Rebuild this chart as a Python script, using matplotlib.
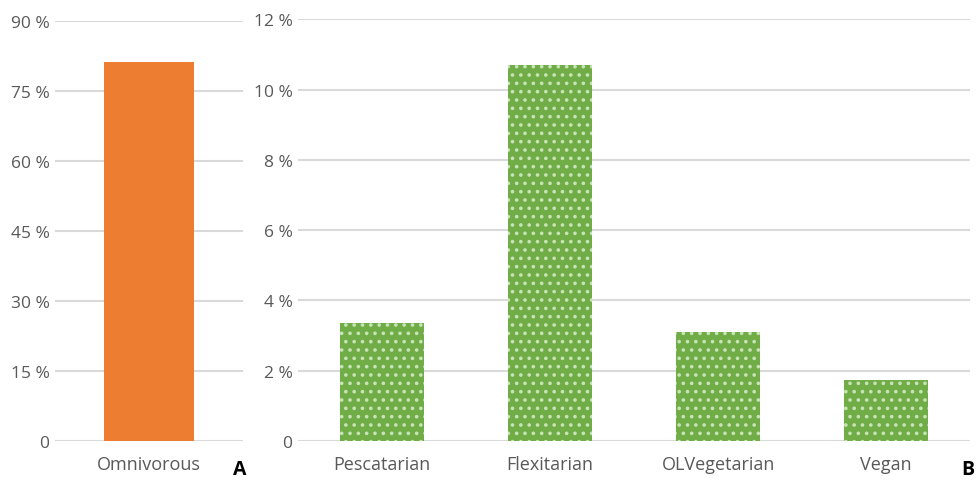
import matplotlib.pyplot as plt
import matplotlib as mpl

# diet groups and their share of respondents (%)
main_group = ['Omnivorous']
main_share = [81.2]

other_groups = ['Pescatarian', 'Flexitarian', 'OLVegetarian', 'Vegan']
other_share = [3.36, 10.69, 3.10, 1.73]

left_ticks = [0, 15, 30, 45, 60, 75, 90]
right_ticks = [0, 2, 4, 6, 8, 10, 12]

text_grey = '#595959'
grid_grey = '#D9D9D9'

mpl.rcParams['font.family'] = ['Open Sans', 'DejaVu Sans']
mpl.rcParams['hatch.linewidth'] = 1.4

fig = plt.figure(figsize=(9.77, 4.81), dpi=100)
ax1 = fig.add_axes([0.0563, 0.081, 0.1924, 0.873])
ax2 = fig.add_axes([0.305, 0.081, 0.688, 0.877])


def pct(v):
    return '0' if v == 0 else f'{v} %'


def style_axis(ax, ticks):
    ax.set_ylim(ticks[0], ticks[-1])
    ax.set_yticks(ticks)
    ax.set_yticklabels([pct(t) for t in ticks])
    ax.yaxis.grid(True, color=grid_grey, linewidth=1.5)
    ax.set_axisbelow(True)
    for s in ax.spines.values():
        s.set_visible(False)
    ax.tick_params(length=0, colors=text_grey, labelsize=12.5)
    ax.tick_params(axis='x', pad=10, labelsize=13)
    ax.tick_params(axis='y', pad=4)


# panel A: omnivores
ax1.bar(main_group, main_share, width=0.48, color='#ED7D31')
ax1.set_xlim(-0.5, 0.5)
style_axis(ax1, left_ticks)

# panel B: the remaining diets, patterned green bars
ax2.bar(other_groups, other_share, width=0.5, color='#70AD47',
        edgecolor='#C9E3B8', linewidth=0, hatch='..')
ax2.set_xlim(-0.5, len(other_groups) - 0.5)
style_axis(ax2, right_ticks)

fig.text(240 / 977, 1 - 470 / 481, 'A', fontsize=14, fontweight='bold',
         ha='center', va='center', color='black')
fig.text(968 / 977, 1 - 470 / 481, 'B', fontsize=14, fontweight='bold',
         ha='center', va='center', color='black')

fig.savefig('out.png', dpi=100)
